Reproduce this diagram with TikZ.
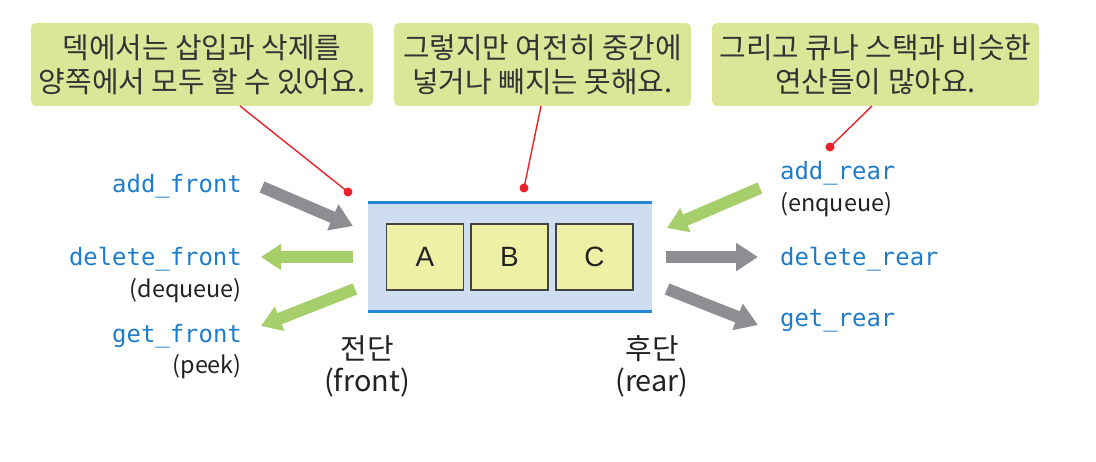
\documentclass[tikz,border=0pt]{standalone}
\usepackage{fontspec}
\setmainfont{Noto Sans CJK KR}
\newfontfamily\kr{Noto Sans CJK KR}
\newfontfamily\mono{DejaVu Sans Mono}
\newfontfamily\sans{Liberation Sans}
\usetikzlibrary{arrows.meta}
\definecolor{callfill}{HTML}{DCE699}
\definecolor{calltext}{HTML}{333333}
\definecolor{redline}{HTML}{E8232B}
\definecolor{boxblue}{HTML}{CFDDF0}
\definecolor{lineblue}{HTML}{2088D4}
\definecolor{cellfill}{HTML}{EEF0A6}
\definecolor{cellline}{HTML}{444444}
\definecolor{arrgray}{HTML}{8E8E92}
\definecolor{arrgreen}{HTML}{A6CE6A}
\definecolor{labblue}{HTML}{1F7CC9}
\definecolor{dark}{HTML}{222222}
\tikzset{
  callout/.style={fill=callfill, rounded corners=5bp, inner sep=0pt, minimum height=83bp,
    align=center, text=calltext, font=\kr\fontsize{29}{34}\selectfont},
  pointer/.style={draw=redline, line width=1.4bp},
  dotmark/.style={fill=redline, draw=none},
  cell/.style={draw=cellline, fill=cellfill, line width=1.5bp, minimum width=77bp, minimum height=66bp,
    inner sep=0pt, font=\sans\fontsize{28}{28}\selectfont, text=dark},
  opgray/.style={draw=arrgray, line width=12bp, -{Triangle[length=22bp,width=27bp]}},
  opgreen/.style={draw=arrgreen, line width=12bp, -{Triangle[length=20bp,width=25bp]}},
  oplabel/.style={font=\mono\fontsize{24}{24}\selectfont, text=labblue, inner sep=0pt},
  sublabel/.style={font=\kr\fontsize{23.5}{23.5}\selectfont, text=dark, inner sep=0pt},
  endlabel/.style={font=\kr\fontsize{29}{29}\selectfont, text=dark, inner sep=0pt},
}
\begin{document}
\begin{tikzpicture}[x=1bp,y=-1bp]
\useasboundingbox (0,0) rectangle (1096,462);
% callouts
\node[callout, minimum width=342bp] (c1) at (202,64.5) {덱에서는 삽입과 삭제를\\양쪽에서 모두 할 수 있어요.};
\node[callout, minimum width=297bp] (c2) at (542.5,64.5) {그렇지만 여전히 중간에\\넣거나 빼지는 못해요.};
\node[callout, minimum width=327bp] (c3) at (875.5,64.5) {그리고 큐나 스택과 비슷한\\연산들이 많아요.};
% deque box
\node[fill=boxblue, minimum width=284bp, minimum height=108bp, inner sep=0pt] (dq) at (510,257) {};
\draw[lineblue, line width=3bp] (dq.north west) -- (dq.north east);
\draw[lineblue, line width=3bp] (dq.south west) -- (dq.south east);
\node[cell] (A) at (425,257) {A};
\node[cell] (B) at (509.5,257) {B};
\node[cell] (C) at (594.5,257) {C};
% pointer dots
\coordinate (p1s) at (240,106);
\coordinate (p1) at (348,192);
\coordinate (p2s) at (541,106);
\coordinate (p2) at (524,188);
\coordinate (p3s) at (872,106);
\coordinate (p3) at (830,147);
\draw[pointer] (p1s) -- (p1);
\draw[pointer] (p2s) -- (p2);
\draw[pointer] (p3s) -- (p3);
\fill[dotmark] (p1) circle (4.5bp);
\fill[dotmark] (p2) circle (4.5bp);
\fill[dotmark] (p3) circle (4.5bp);
% labels left
\node[oplabel, anchor=base east] (af) at (242,193) {add\_front};
\node[oplabel, anchor=base east] (df) at (242,266) {delete\_front};
\node[sublabel, anchor=base east] (dqq) at (242,298) {(dequeue)};
\node[oplabel, anchor=base east] (gf) at (242,343) {get\_front};
\node[sublabel, anchor=base east] (pk) at (242,374) {(peek)};
% labels right
\node[oplabel, anchor=base west] (ar) at (780,180) {add\_rear};
\node[sublabel, anchor=base west] (enq) at (780,212) {(enqueue)};
\node[oplabel, anchor=base west] (dr) at (780,266) {delete\_rear};
\node[oplabel, anchor=base west] (gr) at (780,327) {get\_rear};
% front / rear
\node[endlabel, anchor=base] (fr1) at (367,360) {전단};
\node[endlabel, anchor=base] (fr2) at (367,392) {(front)};
\node[endlabel, anchor=base] (re1) at (652,360) {후단};
\node[endlabel, anchor=base] (re2) at (652,392) {(rear)};
% arrows
\coordinate (a1s) at (262,187);
\coordinate (a1e) at (353,226);
\coordinate (a2s) at (353,257);
\coordinate (a2e) at (261,257);
\coordinate (a3s) at (355,289);
\coordinate (a3e) at (261,326);
\coordinate (a4s) at (760,188);
\coordinate (a4e) at (667,228);
\coordinate (a5s) at (666,257);
\coordinate (a5e) at (758,257);
\coordinate (a6s) at (667,289);
\coordinate (a6e) at (758,325);
\draw[opgray] (a1s) -- (a1e);
\draw[opgreen] (a2s) -- (a2e);
\draw[opgreen] (a3s) -- (a3e);
\draw[opgreen] (a4s) -- (a4e);
\draw[opgray] (a5s) -- (a5e);
\draw[opgray] (a6s) -- (a6e);
\end{tikzpicture}
\end{document}
